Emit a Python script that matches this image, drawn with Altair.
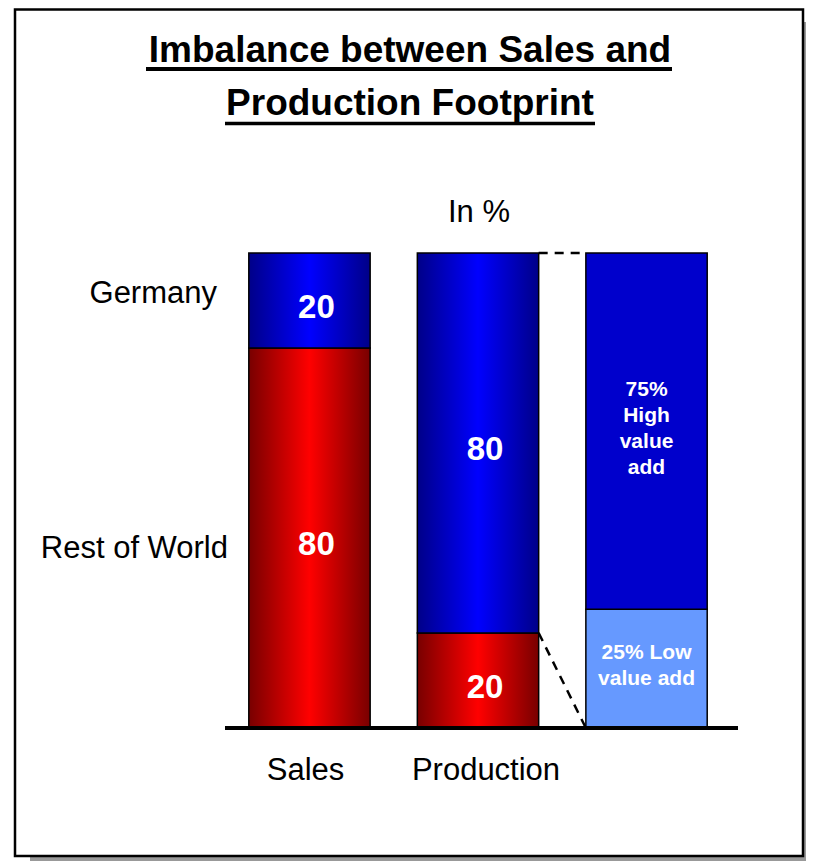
import altair as alt
import pandas as pd

# ---------------- data ----------------
categories = ["Sales", "Production", "Split"]
regions = ["Rest of World", "Germany"]          # bottom -> top
sales_values = [80, 20]
production_values = [20, 80]
split_parts = ["Low", "High"]                   # bottom -> top
split_values = [25, 75]
split_texts = ["25% Low\nvalue add", "75%\nHigh\nvalue\nadd"]
title_lines = ["Imbalance between Sales and", "Production Footprint"]
unit_label = "In %"
category_labels = ["Sales", "Production"]

FONT = "Liberation Sans"


def stack(cat, parts, values, texts):
    rows, base = [], 0
    for p, v, t in zip(parts, values, texts):
        rows.append(dict(cat=cat, part=p, value=v, y0=base, y1=base + v,
                         mid=base + v / 2, label=t))
        base += v
    return rows


rows = (stack("Sales", regions, sales_values, [str(v) for v in sales_values])
        + stack("Production", regions, production_values, [str(v) for v in production_values])
        + stack("Split", split_parts, split_values, split_texts))
df = pd.DataFrame(rows)

prod = df[df.cat == "Production"].set_index("part")
spl = df[df.cat == "Split"].set_index("part")
conn = pd.DataFrame([
    dict(seg="top", src="Production", dst="Split",
         v_src=prod.loc["Germany", "y1"], v_dst=spl.loc["High", "y1"]),
    dict(seg="diag", src="Production", dst="Split",
         v_src=prod.loc["Rest of World", "y1"], v_dst=spl.loc["Low", "y0"]),
])

one = pd.DataFrame({"k": [0]})

# ---------------- scales ----------------
xscale = alt.Scale(domain=categories, range=[217, 730], paddingInner=0.28,
                   paddingOuter=0.162, align=0.436)
yscale = alt.Scale(domain=[0, 100], range=[720, 245], nice=False)

X = alt.X("cat:N", scale=xscale, axis=None)


def grad(edge, center):
    return alt.LinearGradient(
        gradient="linear", x1=0, x2=1, y1=0, y2=0,
        stops=[alt.GradientStop(color=edge, offset=0),
               alt.GradientStop(color=center, offset=0.5),
               alt.GradientStop(color=edge, offset=1)])


layers = []

# shadow + frame
layers.append(alt.Chart(one).mark_rect(color="#999999").encode(
    x=alt.value(22), x2=alt.value(803), y=alt.value(14), y2=alt.value(853)))
layers.append(alt.Chart(one).mark_rect(fill="white", stroke="black", strokeWidth=2.5).encode(
    x=alt.value(7), x2=alt.value(795), y=alt.value(1.5), y2=alt.value(848)))

# title with underlines
for line, ybase, uy, ux1, ux2, uw in [(title_lines[0], 54, 61, 138, 664, 4),
                                      (title_lines[1], 107, 115.5, 217, 587, 3.5)]:
    layers.append(alt.Chart(pd.DataFrame({"t": [line]})).mark_text(
        font=FONT, fontWeight="bold", fontSize=37, align="center",
        baseline="alphabetic", color="black").encode(
        x=alt.value(402), y=alt.value(ybase), text="t:N"))
    layers.append(alt.Chart(one).mark_rule(color="black", strokeWidth=uw).encode(
        x=alt.value(ux1), x2=alt.value(ux2), y=alt.value(uy)))

# unit label
layers.append(alt.Chart(pd.DataFrame({"t": [unit_label]})).mark_text(
    font=FONT, fontSize=31, align="center", baseline="alphabetic").encode(
    x=alt.value(471), y=alt.value(214), text="t:N"))

# dashed connectors: right edge of Production bar -> left edge of Split bar
layers.append(alt.Chart(conn).mark_rule(
    color="black", strokeWidth=2.5, strokeDash=[9, 7],
    x2Offset=alt.ExprRef(expr="-bandwidth('x')/2")).encode(
    x=alt.X("src:N", scale=xscale, axis=None, bandPosition=1),
    x2="dst:N",
    y=alt.Y("v_src:Q", scale=yscale, axis=None),
    y2="v_dst:Q"))

# bars
base = alt.Chart(df)
layers.append(base.transform_filter(
    (alt.datum.part == "Rest of World")).mark_bar(
    fill=grad("#780000", "#FF0000"), stroke="black", strokeWidth=1.5).encode(
    x=X, y=alt.Y("y0:Q", scale=yscale, axis=None), y2="y1:Q"))
layers.append(base.transform_filter(
    (alt.datum.part == "Germany")).mark_bar(
    fill=grad("#000088", "#0000FF"), stroke="black", strokeWidth=1.5).encode(
    x=X, y=alt.Y("y0:Q", scale=yscale, axis=None), y2="y1:Q"))
layers.append(base.transform_filter(alt.datum.cat == "Split").mark_bar(
    stroke="black", strokeWidth=1.5).encode(
    x=X, y=alt.Y("y0:Q", scale=yscale, axis=None), y2="y1:Q",
    fill=alt.Fill("part:N", scale=alt.Scale(domain=split_parts, range=["#6699FF", "#0000CC"]),
                  legend=None)))

# value labels
layers.append(base.transform_filter(alt.datum.cat != "Split").mark_text(
    font=FONT, fontWeight="bold", fontSize=33, color="white", align="center",
    baseline="alphabetic", dx=7, dy=17).encode(
    x=X, y=alt.Y("mid:Q", scale=yscale, axis=None), text="label:N"))

# multi-line labels in the split bar, block centred on its segment
LH = 26
for part, txt in zip(split_parts, split_texts):
    n_lines = txt.count("\n") + 1
    layers.append(base.transform_filter(
        (alt.datum.cat == "Split") & (alt.datum.part == part)).mark_text(
        font=FONT, fontWeight="bold", fontSize=21, color="white", align="center",
        baseline="middle", lineBreak="\n", lineHeight=LH,
        dy=-(n_lines - 1) / 2 * LH - 2.5).encode(
        x=X, y=alt.Y("mid:Q", scale=yscale, axis=None), text="label:N"))

# baseline
layers.append(alt.Chart(one).mark_rule(color="black", strokeWidth=4).encode(
    x=alt.value(217), x2=alt.value(730), y=alt.Y(datum=0, scale=yscale)))

# region labels on the left
for txt, xr, yb in [(regions[1], 209, 295), (regions[0], 220, 550)]:
    layers.append(alt.Chart(pd.DataFrame({"t": [txt]})).mark_text(
        font=FONT, fontSize=31, align="right", baseline="alphabetic").encode(
        x=alt.value(xr), y=alt.value(yb), text="t:N"))

# category labels under the bars
for cat, dx in zip(category_labels, [-4, 8]):
    layers.append(alt.Chart(pd.DataFrame({"cat": [cat]})).mark_text(
        font=FONT, fontSize=31, align="center", baseline="alphabetic", dx=dx).encode(
        x=X, y=alt.value(772), text="cat:N"))

chart = alt.layer(*layers).properties(
    width=798, height=853, padding=0,
    autosize=alt.AutoSizeParams(type="none"),
).configure_view(strokeWidth=0)

chart.save("out.html", embed_options={"renderer": "svg", "actions": False})
